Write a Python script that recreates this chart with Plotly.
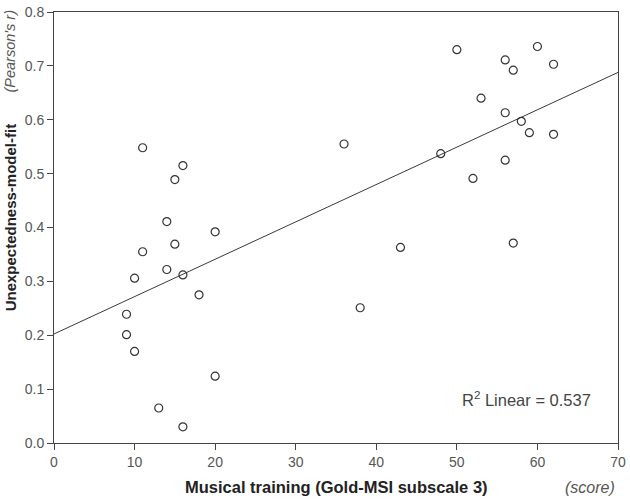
import numpy as np
import plotly.graph_objects as go

# Musical training score (Gold-MSI subscale 3)
x_score = [11, 16, 15, 14, 20, 15, 11, 14, 16, 10, 18, 9, 9, 10, 20, 13, 16,
           36, 38, 43, 48, 50, 52, 53, 56, 57, 56, 58, 59, 62, 56, 57, 60, 62]
# Unexpectedness-model-fit (Pearson's r)
y_fit = [0.548, 0.515, 0.489, 0.411, 0.392, 0.369, 0.355, 0.322, 0.312, 0.306,
         0.275, 0.239, 0.201, 0.170, 0.124, 0.065, 0.030,
         0.555, 0.251, 0.363, 0.537, 0.730, 0.491, 0.640, 0.711, 0.692, 0.613,
         0.597, 0.576, 0.573, 0.525, 0.371, 0.736, 0.703]

x_ticks = [0, 10, 20, 30, 40, 50, 60, 70]
y_ticks = [0.0, 0.1, 0.2, 0.3, 0.4, 0.5, 0.6, 0.7, 0.8]
r2_label = "R<sup>2</sup> Linear = 0.537"

slope, intercept = np.polyfit(x_score, y_fit, 1)
line_x = [0, 70]
line_y = [intercept + slope * v for v in line_x]

fig = go.Figure()
fig.add_trace(go.Scatter(x=line_x, y=line_y, mode="lines",
                         line=dict(color="#3a3a3a", width=1), hoverinfo="skip"))
fig.add_trace(go.Scatter(x=x_score, y=y_fit, mode="markers",
                         marker=dict(symbol="circle-open", size=8,
                                     color="#333333", line=dict(width=1.2))))

font = "Liberation Sans, Arial, sans-serif"
fig.update_layout(
    width=630, height=499,
    margin=dict(l=54, r=8, t=4, b=56),
    paper_bgcolor="white", plot_bgcolor="white",
    showlegend=False,
    font=dict(family=font, color="#444444", size=13),
    xaxis=dict(range=[0, 70], tickvals=x_ticks, ticks="outside", ticklen=6,
               tickcolor="#444444", showline=True, linecolor="#444444",
               linewidth=1, mirror=True, showgrid=False, zeroline=False,
               ticklabeloverflow="allow",
               tickfont=dict(size=14, color="#555555")),
    yaxis=dict(range=[0, 0.8], tickvals=y_ticks, tickformat=".1f",
               ticks="outside", ticklen=6, tickcolor="#444444",
               showline=True, linecolor="#444444", linewidth=1, mirror=True,
               showgrid=False, zeroline=False, ticklabeloverflow="allow",
               tickfont=dict(size=14, color="#555555")),
    annotations=[
        dict(text="<b>Musical training (Gold-MSI subscale 3)</b>",
             xref="paper", yref="paper", x=(339 - 54) / 568, y=-(488 - 443.3) / 439.3,
             xanchor="center", yanchor="middle", showarrow=False,
             font=dict(size=16.5, color="#222222", family=font)),
        dict(text="<i>(score)</i>", xref="paper", yref="paper",
             x=(594 - 54) / 568, y=-(489 - 443.3) / 439.3,
             xanchor="center", yanchor="middle", showarrow=False,
             font=dict(size=16, color="#555555", family=font)),
        dict(text="<b>Unexpectedness-model-fit</b>", xref="paper", yref="paper",
             x=-(54 - 10) / 568, y=(443.3 - 213) / 439.3, textangle=-90,
             xanchor="center", yanchor="middle", showarrow=False,
             font=dict(size=15, color="#222222", family=font)),
        dict(text="<i>(Pearson's r)</i>", xref="paper", yref="paper",
             x=-(54 - 10) / 568, y=(443.3 - 44) / 439.3, textangle=-90,
             xanchor="center", yanchor="middle", showarrow=False,
             font=dict(size=14.5, color="#555555", family=font)),
        dict(text=r2_label, xref="x", yref="y", x=66.9, y=0.082,
             xanchor="right", yanchor="middle", showarrow=False,
             font=dict(size=16.5, color="#444444", family=font)),
    ],
)

fig.write_html("out.html", config={"displayModeBar": False},
               post_script="document.body.style.margin='0';")
